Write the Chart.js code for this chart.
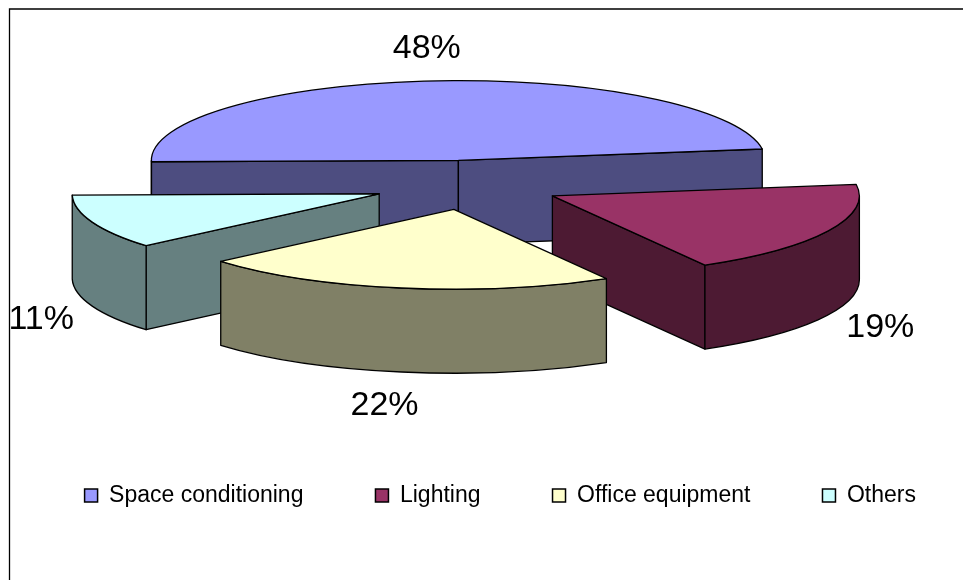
<!DOCTYPE html>
<html>
<head>
<meta charset="utf-8">
<style>
  html, body { margin: 0; padding: 0; background: #fff; }
  canvas { display: block; }
</style>
<script src="https://cdn.jsdelivr.net/npm/chart.js@4"></script>
</head>
<body>
<canvas id="pieCanvas" width="963" height="580"></canvas>
<script>
const categories = ['Space conditioning', 'Lighting', 'Office equipment', 'Others'];
const shares = [48, 19, 22, 11];
const topColors = ['#9999ff', '#993366', '#ffffcc', '#ccffff'];
const wallColors = ['#4d4d80', '#4d1a33', '#808066', '#668080'];

const PIE_X = 466;      // pie centre, the legend needs the chart area to stay full width
const PIE_Y = 185;
const TILT = 0.26;      // vertical squash of the pie disc
const DEPTH = 84;       // height of the extruded walls
const EXPLODE = 95;     // how far each slice moves out from the centre
const sliceShiftX = [0, 1, 4, 2];
const labelNudges = [[-7, -32], [52, 97], [-17, 118], [-51, 98]];
const FONT = '"Liberation Sans", Arial, sans-serif';

// fake 3d pie: walls, then the library's own arc on top, squashed
const pie3d = {
    id: 'pie3d',
    beforeDraw(chart) {
        const ctx = chart.ctx;
        ctx.save();
        ctx.fillStyle = '#fff';
        ctx.fillRect(0, 0, chart.width, chart.height);
        // chart frame runs off the right and bottom of the page
        ctx.strokeStyle = '#000';
        ctx.lineWidth = 1.3;
        ctx.beginPath();
        ctx.moveTo(9.5, chart.height);
        ctx.lineTo(9.5, 9);
        ctx.lineTo(chart.width, 9);
        ctx.stroke();
        ctx.restore();
    },
    beforeDatasetDraw(chart, args) {
        const ctx = chart.ctx;
        const arcs = chart.getDatasetMeta(args.index).data;
        const slices = arcs.map(function(arc, i) {
            const mid = (arc.startAngle + arc.endAngle) / 2;
            return {
                arc: arc,
                i: i,
                mid: mid,
                cx: PIE_X + Math.cos(mid) * EXPLODE + sliceShiftX[i],
                cy: PIE_Y + Math.sin(mid) * EXPLODE * TILT
            };
        });
        // back to front
        slices.slice().sort(function(a, b) { return a.cy - b.cy; }).forEach(function(s) {
            drawSlice(ctx, s);
        });
        // percentage labels
        ctx.save();
        ctx.fillStyle = '#000';
        ctx.font = '34px ' + FONT;
        ctx.textAlign = 'center';
        ctx.textBaseline = 'middle';
        slices.forEach(function(s) {
            const r = s.arc.outerRadius;
            const x = s.cx + Math.cos(s.mid) * r + labelNudges[s.i][0];
            const y = s.cy + Math.sin(s.mid) * r * TILT + labelNudges[s.i][1];
            ctx.fillText(shares[s.i] + '%', x, y);
        });
        ctx.restore();
        return false;
    }
};

function drawSlice(ctx, s) {
    const arc = s.arc;
    const r = arc.outerRadius;
    const ry = r * TILT;
    const a0 = arc.startAngle;
    const a1 = arc.endAngle;

    ctx.save();
    ctx.strokeStyle = '#000';
    ctx.lineWidth = 1.3;
    ctx.lineJoin = 'round';
    ctx.fillStyle = wallColors[s.i];

    // cut faces, skipping the ones that point away from the viewer
    [a0, a1].forEach(function(a) {
        const facing = a === a0 ? Math.cos(a) < 0 : Math.cos(a) > 0;
        if (!facing) return;
        const ex = s.cx + Math.cos(a) * r;
        const ey = s.cy + Math.sin(a) * ry;
        ctx.beginPath();
        ctx.moveTo(s.cx, s.cy);
        ctx.lineTo(ex, ey);
        ctx.lineTo(ex, ey + DEPTH);
        ctx.lineTo(s.cx, s.cy + DEPTH);
        ctx.closePath();
        ctx.fill();
        ctx.stroke();
    });

    // rim, only where it faces the viewer (sin > 0)
    const TAU = Math.PI * 2;
    for (let k = 0; k <= 1; k++) {
        const from = Math.max(a0, k * TAU);
        const to = Math.min(a1, k * TAU + Math.PI);
        if (to <= from) continue;
        ctx.beginPath();
        ctx.ellipse(s.cx, s.cy, r, ry, 0, from, to);
        ctx.ellipse(s.cx, s.cy + DEPTH, r, ry, 0, to, from, true);
        ctx.closePath();
        ctx.fill();
        ctx.stroke();
    }

    // top face comes from the arc element itself
    ctx.save();
    ctx.translate(s.cx, s.cy);
    ctx.scale(1, TILT);
    ctx.translate(-arc.x, -arc.y);
    arc.draw(ctx);
    ctx.restore();

    ctx.beginPath();
    ctx.moveTo(s.cx, s.cy);
    ctx.ellipse(s.cx, s.cy, r, ry, 0, a0, a1);
    ctx.closePath();
    ctx.stroke();
    ctx.restore();
}

var ctx = document.getElementById('pieCanvas').getContext('2d');
var myChart = new Chart(ctx, {
    type: 'pie',
    data: {
        labels: categories,
        datasets: [{
            data: shares,
            backgroundColor: topColors,
            borderWidth: 0
        }]
    },
    options: {
        responsive: false,
        animation: false,
        radius: 307,
        rotation: 269,
        layout: {
            // the negative sides only widen the legend row so it stays on one line
            padding: { left: -54, right: -25, top: 0, bottom: 63 }
        },
        plugins: {
            tooltip: { enabled: false },
            legend: {
                position: 'bottom',
                align: 'end',
                labels: {
                    boxWidth: 13,
                    boxHeight: 13,
                    padding: 72,
                    color: '#000',
                    font: { family: FONT, size: 23 },
                    generateLabels(chart) {
                        return categories.map(function(name, i) {
                            return {
                                text: name,
                                fillStyle: topColors[i],
                                strokeStyle: '#000',
                                lineWidth: 1.5,
                                index: i
                            };
                        });
                    }
                }
            }
        }
    },
    plugins: [pie3d]
});
</script>
</body>
</html>
